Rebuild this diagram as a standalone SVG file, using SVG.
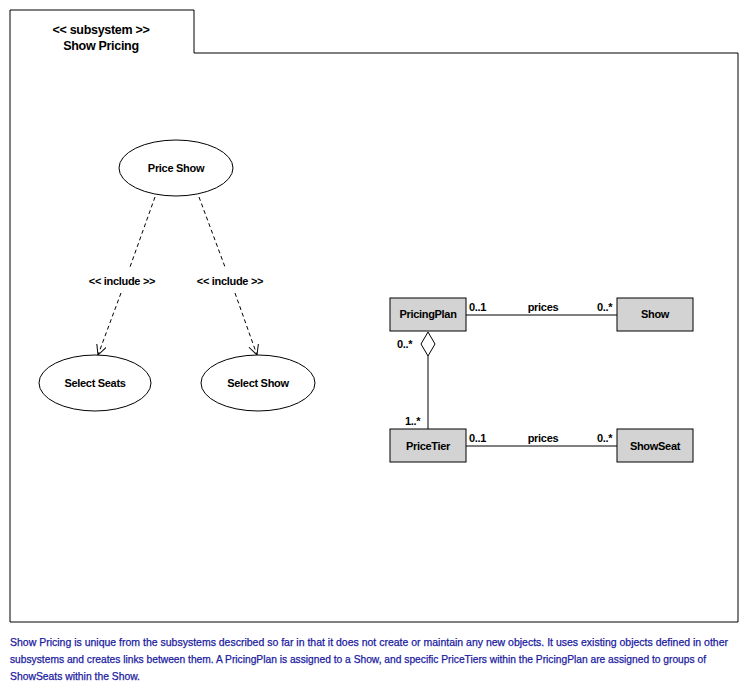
<svg xmlns="http://www.w3.org/2000/svg" width="750" height="695" viewBox="0 0 750 695">
<defs>
<style>
text{font-family:"Liberation Sans","DejaVu Sans",sans-serif;font-weight:bold;fill:#000;}
.lbl{font-size:11px;letter-spacing:-0.3px;}
.ttl{font-size:12.5px;letter-spacing:-0.3px;}
.uc{fill:#fff;stroke:#000;stroke-width:1;}
.cls{fill:#d3d3d3;stroke:#000;stroke-width:1;}
.ln{fill:none;stroke:#000;stroke-width:1;}
.dash{fill:none;stroke:#000;stroke-width:1;stroke-dasharray:4,3;}
.foot{font-size:10.5px;fill:#1a1aa0;stroke:#1a1aa0;stroke-width:0.25px;font-weight:normal;}
</style>
<marker id="open" markerWidth="12" markerHeight="12" refX="10" refY="5" orient="auto" markerUnits="userSpaceOnUse">
<path d="M0,0 L10,5 L0,10" fill="none" stroke="#000" stroke-width="1"/>
</marker>
</defs>
<rect width="750" height="695" fill="#fff"/>
<g id="frame">
<path class="ln" d="M10,10 H194 V53 H738 V622 H10 Z"/>
<text class="ttl" x="101" y="34" text-anchor="middle">&lt;&lt; subsystem &gt;&gt;</text>
<text class="ttl" x="101" y="50" text-anchor="middle">Show Pricing</text>
</g>
<g id="connectors">
<path class="dash" d="M155,197 L130,267"/>
<path class="dash" d="M121,293 L98,355" marker-end="url(#open)"/>
<path class="dash" d="M199,197 L225,267"/>
<path class="dash" d="M235,293 L257,355" marker-end="url(#open)"/>
<text class="lbl" x="122" y="285" text-anchor="middle">&lt;&lt; include &gt;&gt;</text>
<text class="lbl" x="230" y="285" text-anchor="middle">&lt;&lt; include &gt;&gt;</text>
<path class="ln" d="M466,315 H617"/>
<text class="lbl" x="469" y="311">0..1</text>
<text class="lbl" x="543" y="311" text-anchor="middle">prices</text>
<text class="lbl" x="597" y="311">0..*</text>
<path class="ln" d="M466,446 H617"/>
<text class="lbl" x="469" y="442">0..1</text>
<text class="lbl" x="543" y="442" text-anchor="middle">prices</text>
<text class="lbl" x="597" y="442">0..*</text>
<path class="ln" d="M428,356 V429"/>
<path d="M428,332 L435,344 L428,356 L421,344 Z" fill="#fff" stroke="#000" stroke-width="1"/>
<text class="lbl" x="397" y="348">0..*</text>
<text class="lbl" x="405" y="425">1..*</text>
</g>
<g id="price-show"><ellipse class="uc" cx="176" cy="168" rx="57" ry="28"/><text class="lbl" x="176" y="172" text-anchor="middle">Price Show</text></g>
<g id="select-seats"><ellipse class="uc" cx="95" cy="383" rx="56" ry="28"/><text class="lbl" x="95" y="387" text-anchor="middle">Select Seats</text></g>
<g id="select-show"><ellipse class="uc" cx="258" cy="383" rx="57" ry="28"/><text class="lbl" x="258" y="387" text-anchor="middle">Select Show</text></g>
<g id="pricingplan"><rect class="cls" x="390" y="298" width="76" height="33"/><text class="lbl" x="428" y="318" text-anchor="middle">PricingPlan</text></g>
<g id="show"><rect class="cls" x="617" y="298" width="76" height="33"/><text class="lbl" x="655" y="318" text-anchor="middle">Show</text></g>
<g id="pricetier"><rect class="cls" x="390" y="429" width="76" height="33"/><text class="lbl" x="428" y="450" text-anchor="middle">PriceTier</text></g>
<g id="showseat"><rect class="cls" x="617" y="429" width="76" height="33"/><text class="lbl" x="655" y="450" text-anchor="middle">ShowSeat</text></g>
<g id="caption">
<text class="foot" x="10" y="646" textLength="718" lengthAdjust="spacingAndGlyphs">Show Pricing is unique from the subsystems described so far in that it does not create or maintain any new objects.  It uses existing objects defined in other</text>
<text class="foot" x="10" y="663" textLength="696" lengthAdjust="spacingAndGlyphs">subsystems and creates links between them.  A PricingPlan is assigned to a Show, and specific PriceTiers within the PricingPlan are assigned to groups of</text>
<text class="foot" x="10" y="680" textLength="130" lengthAdjust="spacingAndGlyphs">ShowSeats within the Show.</text>
</g>
</svg>
